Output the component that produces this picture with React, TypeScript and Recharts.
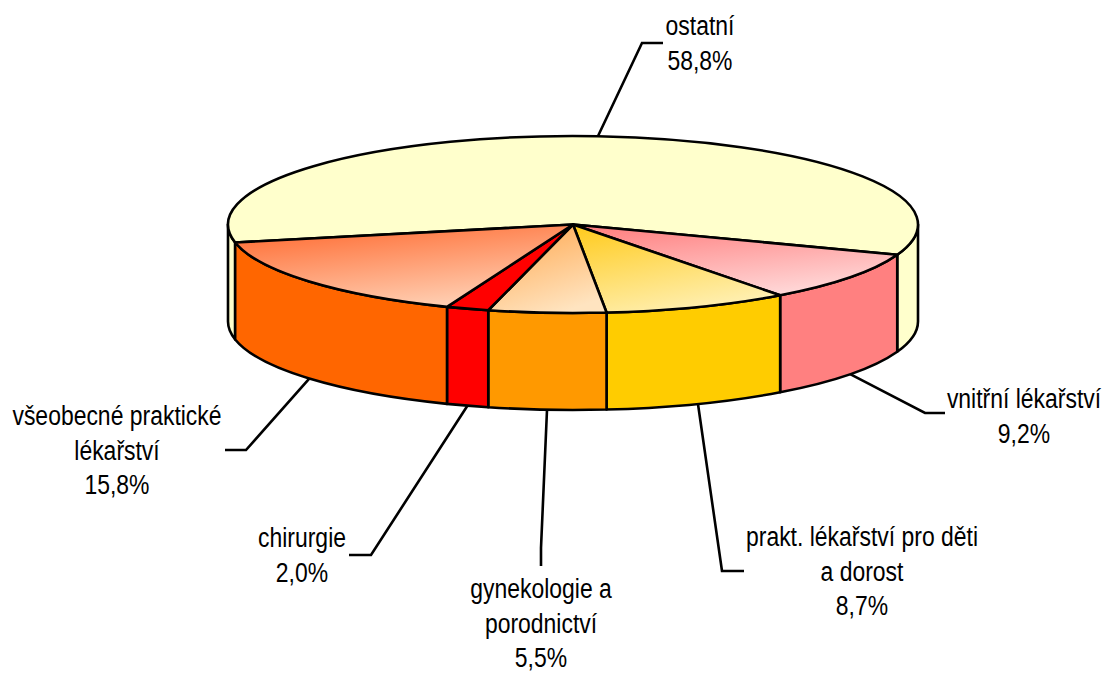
import React from 'react';
import { PieChart, Pie } from 'recharts';

const names = ['ostatní', 'vnitřní lékařství', 'prakt. lékařství pro děti a dorost', 'gynekologie a porodnictví', 'chirurgie', 'všeobecné praktické lékařství'];
const shares = [58.8, 9.2, 8.7, 5.5, 2.0, 15.8];
const labelLines = [
    ['ostatní'],
    ['vnitřní lékařství'],
    ['prakt. lékařství pro děti', 'a dorost'],
    ['gynekologie a', 'porodnictví'],
    ['chirurgie'],
    ['všeobecné praktické', 'lékařství'],
];
const wallColors = ['#ffffcc', '#ff8080', '#ffcc00', '#ff9900', '#ff0000', '#ff6600'];
const topFills = ['#ffffcc', 'url(#topPink)', 'url(#topYellow)', 'url(#topOrange)', '#ff0000', 'url(#topDark)'];

// label centre x, first baseline y, then the two leader bends
const labelX = [700, 1024, 862, 541, 302, 117];
const labelY = [35, 408, 546, 598, 547, 425];
const bendA = [[642, 43], [925, 413], [722, 571], [541, 548], [371, 555], [246, 450]];
const bendB = [[663, 43], [945, 413], [744, 571], [541, 566], [349, 555], [225, 450]];

const data = names.map((name, i) => ({ name, value: shares[i] }));

const SQUASH = 0.2565;
const DEPTH = 97;
const RAD = Math.PI / 180;

const pt = (cx: number, cy: number, r: number, a: number, dy = 0) =>
    `${cx + r * Math.cos(a * RAD)} ${cy - r * SQUASH * Math.sin(a * RAD) + dy}`;

// top face plus the visible part of the side wall, squashed to an ellipse
const Slice3D = (props: any) => {
    const { cx, cy, outerRadius: r, startAngle, endAngle, name } = props;
    const i = names.indexOf(name);
    const ry = r * SQUASH;
    const large = startAngle - endAngle > 180 ? 1 : 0;
    const walls = [[-180, 0], [180, 360]]
        .map(([lo, hi]) => [Math.min(startAngle, hi), Math.max(endAngle, lo)])
        .filter(([a, b]) => a > b)
        .map(([a, b]) =>
            `M${pt(cx, cy, r, a)} A${r} ${ry} 0 0 1 ${pt(cx, cy, r, b)} L${pt(cx, cy, r, b, DEPTH)} A${r} ${ry} 0 0 0 ${pt(cx, cy, r, a, DEPTH)} Z`);
    return (
        <g stroke="#000" strokeWidth={2.6} strokeLinejoin="round">
            {walls.map((d) => <path key={d} d={d} fill={wallColors[i]} />)}
            <path
                d={`M${cx} ${cy} L${pt(cx, cy, r, startAngle)} A${r} ${ry} 0 ${large} 1 ${pt(cx, cy, r, endAngle)} Z`}
                fill={topFills[i]}
            />
        </g>
    );
};

const SliceLabel = (props: any) => {
    const { cx, cy, outerRadius: r, midAngle, name } = props;
    const i = names.indexOf(name);
    const drop = Math.sin(midAngle * RAD) < 0 ? DEPTH : 0;
    const lines = [...labelLines[i], `${shares[i].toFixed(1).replace('.', ',')}%`];
    return (
        <g>
            <path
                d={`M${pt(cx, cy, r, midAngle, drop)} L${bendA[i].join(' ')} L${bendB[i].join(' ')}`}
                fill="none"
                stroke="#000"
                strokeWidth={2.6}
            />
            {lines.map((t, k) => (
                <text
                    key={t}
                    transform={`translate(${labelX[i]} ${labelY[i] + k * 34.7}) scale(0.85 1)`}
                    textAnchor="middle"
                    fontFamily="Liberation Sans"
                    fontSize={27}
                    fill="#000"
                >
                    {t}
                </text>
            ))}
        </g>
    );
};

const Grad = ({ id, from, to }: { id: string; from: string; to: string }) => (
    <linearGradient id={id} x1="0.15" y1="0" x2="0.6" y2="1">
        <stop offset="0" stopColor={from} />
        <stop offset="1" stopColor={to} />
    </linearGradient>
);

export default function App() {
    return (
        <div style={{ position: 'absolute', left: 0, top: 0, width: 1106, height: 673 }}>
            <PieChart width={1106} height={673} margin={{ top: 0, right: 0, bottom: 0, left: 0 }}>
                <defs>
                    <Grad id="topPink" from="#ff8080" to="#ffd8d8" />
                    <Grad id="topYellow" from="#ffcc22" to="#fff0b4" />
                    <Grad id="topOrange" from="#ffa850" to="#ffe4c0" />
                    <Grad id="topDark" from="#ff6a30" to="#ffd0b4" />
                </defs>
                <Pie
                    data={data}
                    dataKey="value"
                    nameKey="name"
                    cx={573}
                    cy={224.5}
                    outerRadius={345}
                    startAngle={191.7}
                    endAngle={-168.3}
                    stroke="none"
                    shape={Slice3D}
                    label={SliceLabel}
                    labelLine={false}
                    isAnimationActive={false}
                />
            </PieChart>
        </div>
    );
}
